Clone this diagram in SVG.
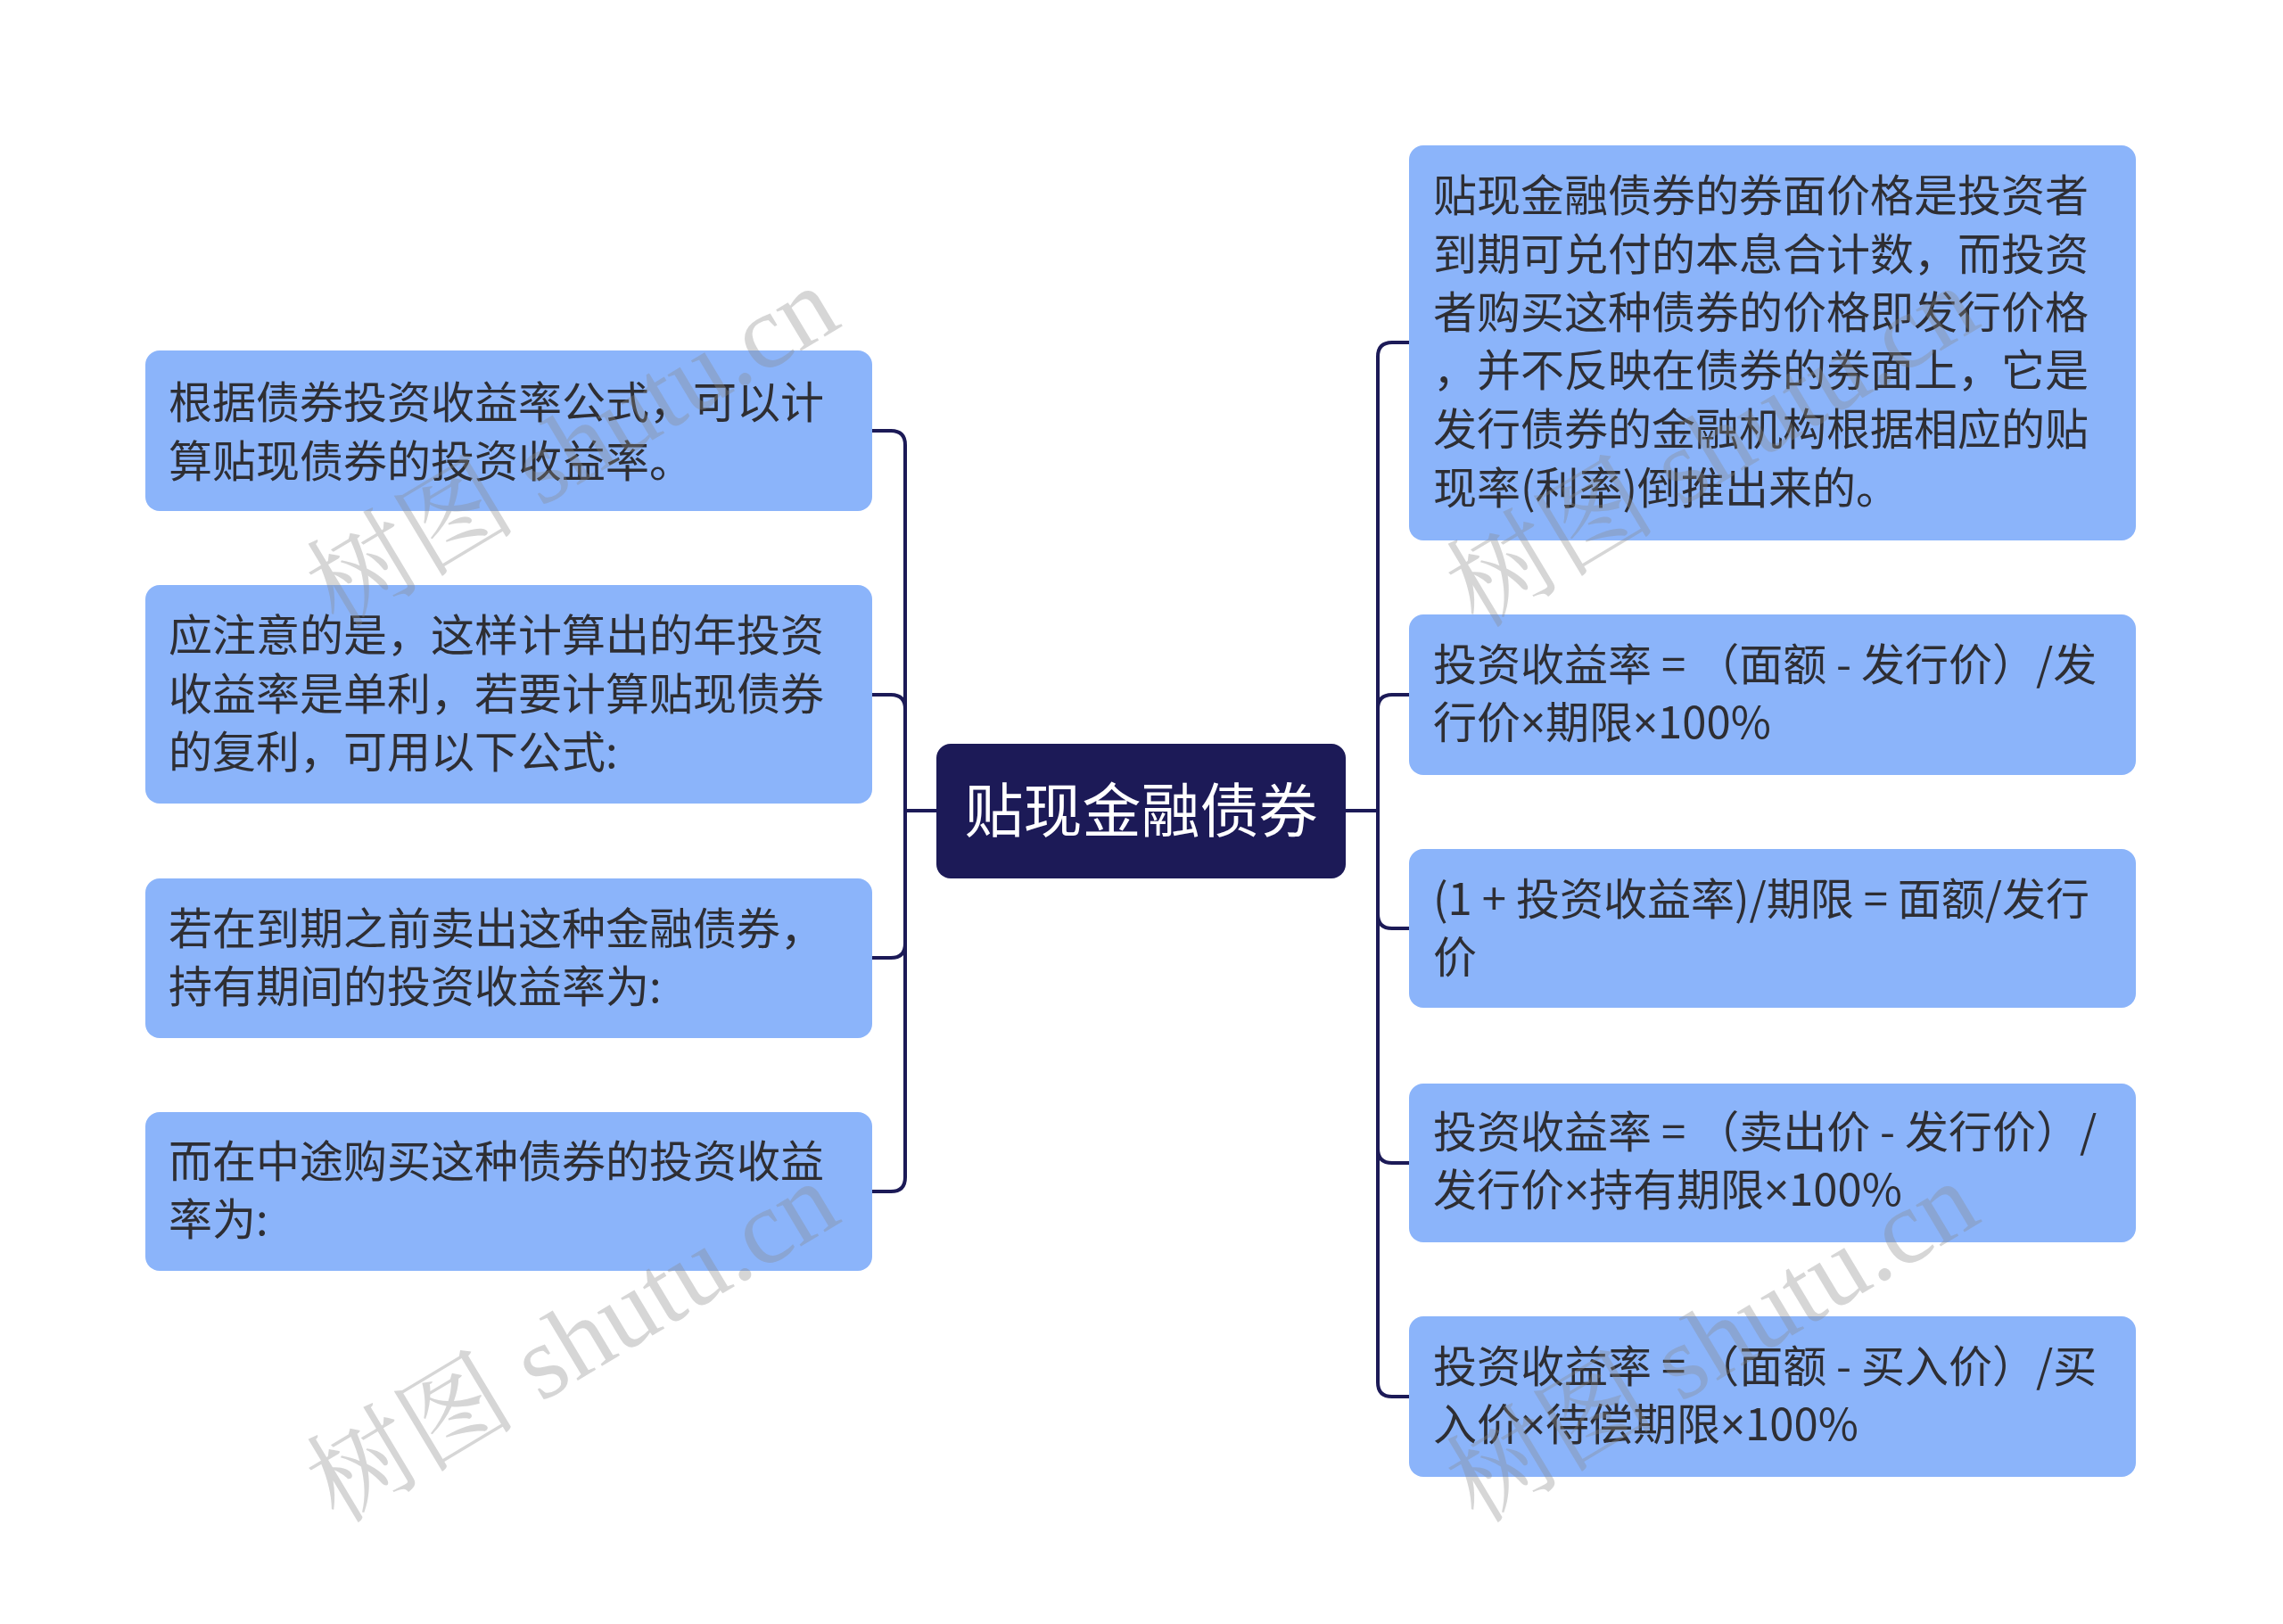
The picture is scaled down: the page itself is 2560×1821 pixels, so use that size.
<svg xmlns="http://www.w3.org/2000/svg" width="2560" height="1821" viewBox="0 0 2560 1821">
<style>
.leaf rect{fill:#8bb4fa;}
.leaf text{font-family:"Noto Sans CJK SC","Noto Sans",sans-serif;font-size:49px;fill:#2e2e33;}
.leaf tspan.x{font-family:"Noto Sans","DejaVu Sans",sans-serif;}
.root rect{fill:#1c1a57;}
.root text{font-family:"Noto Sans CJK SC","Noto Sans",sans-serif;font-size:66px;fill:#ffffff;}
.conn path{fill:none;stroke:#1c1a57;stroke-width:4;}
.wm{font-family:"Liberation Serif","Noto Serif CJK SC","Noto Sans CJK SC",serif;font-size:118px;fill:#8a8a8a;fill-opacity:0.35;}
</style>
<rect width="2560" height="1821" fill="#ffffff"/>
<g id="connectors" class="conn">
<path d="M1050 909 H1015"/>
<path d="M978 483 H999 Q1015 483 1015 499 V909"/>
<path d="M978 779 H999 Q1015 779 1015 795 V909"/>
<path d="M978 1074 H999 Q1015 1074 1015 1058 V909"/>
<path d="M978 1336 H999 Q1015 1336 1015 1320 V909"/>
<path d="M1509 909 H1545"/>
<path d="M1580 384 H1561 Q1545 384 1545 400 V909"/>
<path d="M1580 779 H1561 Q1545 779 1545 795 V909"/>
<path d="M1580 1041 H1561 Q1545 1041 1545 1025 V909"/>
<path d="M1580 1304 H1561 Q1545 1304 1545 1288 V909"/>
<path d="M1580 1566 H1561 Q1545 1566 1545 1550 V909"/>
</g>
<g id="root" class="root">
<rect x="1050" y="834" width="459" height="151" rx="16"/>
<text x="1279.5" y="933" text-anchor="middle">贴现金融债券</text>
</g>
<g id="left1" class="leaf">
<rect x="163" y="393" width="815" height="180" rx="16"/>
<text x="189" y="469">根据债券投资收益率公式，可以计</text>
<text x="189" y="535">算贴现债券的投资收益率。</text>
</g>
<g id="left2" class="leaf">
<rect x="163" y="656" width="815" height="245" rx="16"/>
<text x="189" y="730">应注意的是，这样计算出的年投资</text>
<text x="189" y="796">收益率是单利，若要计算贴现债券</text>
<text x="189" y="861">的复利，可用以下公式:</text>
</g>
<g id="left3" class="leaf">
<rect x="163" y="985" width="815" height="179" rx="16"/>
<text x="189" y="1059">若在到期之前卖出这种金融债券，</text>
<text x="189" y="1124">持有期间的投资收益率为:</text>
</g>
<g id="left4" class="leaf">
<rect x="163" y="1247" width="815" height="178" rx="16"/>
<text x="189" y="1320">而在中途购买这种债券的投资收益</text>
<text x="189" y="1385">率为:</text>
</g>
<g id="right1" class="leaf">
<rect x="1580" y="163" width="815" height="443" rx="16"/>
<text x="1607" y="237">贴现金融债券的券面价格是投资者</text>
<text x="1607" y="303">到期可兑付的本息合计数，而投资</text>
<text x="1607" y="368">者购买这种债券的价格即发行价格</text>
<text x="1607" y="433">，并不反映在债券的券面上，它是</text>
<text x="1607" y="499">发行债券的金融机构根据相应的贴</text>
<text x="1607" y="565">现率(利率)倒推出来的。</text>
</g>
<g id="right2" class="leaf">
<rect x="1580" y="689" width="815" height="180" rx="16"/>
<text x="1607" y="763">投资收益率 = （面额 - 发行价）/发</text>
<text x="1607" y="828">行价<tspan class="x">×</tspan>期限<tspan class="x">×</tspan>100%</text>
</g>
<g id="right3" class="leaf">
<rect x="1580" y="952" width="815" height="178" rx="16"/>
<text x="1607" y="1026">(1 + 投资收益率)/期限 = 面额/发行</text>
<text x="1607" y="1091">价</text>
</g>
<g id="right4" class="leaf">
<rect x="1580" y="1215" width="815" height="178" rx="16"/>
<text x="1607" y="1287">投资收益率 = （卖出价 - 发行价）/</text>
<text x="1607" y="1352">发行价<tspan class="x">×</tspan>持有期限<tspan class="x">×</tspan>100%</text>
</g>
<g id="right5" class="leaf">
<rect x="1580" y="1476" width="815" height="180" rx="16"/>
<text x="1607" y="1550">投资收益率 = （面额 - 买入价）/买</text>
<text x="1607" y="1615">入价<tspan class="x">×</tspan>待偿期限<tspan class="x">×</tspan>100%</text>
</g>
<g id="watermarks">
<text class="wm" x="645" y="540" text-anchor="middle" transform="rotate(-31 645 506)">树图 shutu.cn</text>
<text class="wm" x="645" y="1544" text-anchor="middle" transform="rotate(-31 645 1510)">树图 shutu.cn</text>
<text class="wm" x="1923" y="540" text-anchor="middle" transform="rotate(-31 1923 506)">树图 shutu.cn</text>
<text class="wm" x="1923" y="1544" text-anchor="middle" transform="rotate(-31 1923 1510)">树图 shutu.cn</text>
</g>
</svg>
